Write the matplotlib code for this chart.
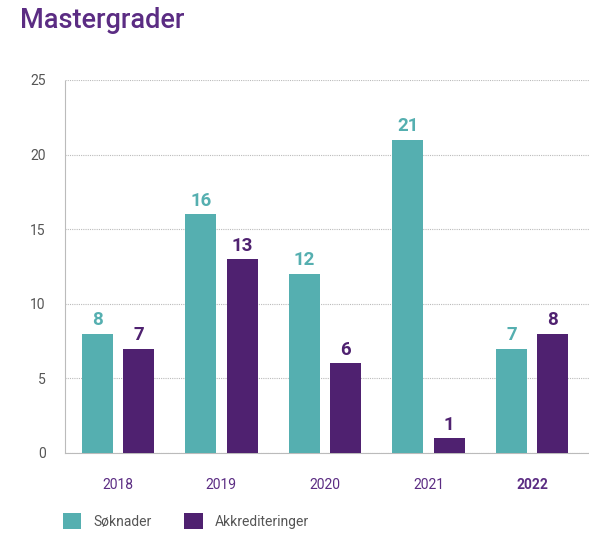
import matplotlib
matplotlib.use("Agg")
import matplotlib.pyplot as plt
import numpy as np

years = ["2018", "2019", "2020", "2021", "2022"]
soknader = [8, 16, 12, 21, 7]
akkrediteringer = [7, 13, 6, 1, 8]
yticks = [0, 5, 10, 15, 20, 25]

teal = "#55AFB0"
purple = "#4F2170"
title_purple = "#5B2C83"

plt.rcParams['font.family'] = ['Roboto', 'DejaVu Sans']

fig = plt.figure(figsize=(5.89, 5.34), dpi=100)
ax = fig.add_axes([65/589, 1-453/534, (589-65)/589, (453-80)/534])

x = np.arange(len(years))
w = 0.3
off = 0.2
b1 = ax.bar(x - off, soknader, w, color=teal, label="Søknader", zorder=3)
b2 = ax.bar(x + off, akkrediteringer, w, color=purple, label="Akkrediteringer", zorder=3)

for rect, v in zip(b1, soknader):
    ax.text(rect.get_x() + rect.get_width()/2, v + 0.3, str(v), ha='center', va='bottom',
            color=teal, fontsize=13.5, fontweight='bold', zorder=4)
for rect, v in zip(b2, akkrediteringer):
    ax.text(rect.get_x() + rect.get_width()/2, v + 0.3, str(v), ha='center', va='bottom',
            color=purple, fontsize=13.5, fontweight='bold', zorder=4)

ax.set_xlim(-0.51, 4.55)
ax.set_ylim(0, 25)
ax.set_yticks(yticks)
ax.set_yticklabels([str(t) for t in yticks], color="#555555", fontsize=10)
ax.set_xticks(x)
ax.set_xticklabels(years, fontsize=10, color=title_purple)
ax.get_xticklabels()[-1].set_fontweight('bold')
ax.tick_params(axis='both', length=0)
ax.tick_params(axis='x', pad=18)
ax.tick_params(axis='y', pad=14)

ax.grid(axis='y', color='#bbbbbb', linestyle=(0, (1, 1)), linewidth=0.8, zorder=0)
for s in ['top', 'right']:
    ax.spines[s].set_visible(False)
ax.spines['left'].set_color('#bbbbbb')
ax.spines['left'].set_linestyle((0, (1, 1)))
ax.spines['left'].set_linewidth(0.8)
ax.spines['bottom'].set_color('#bbbbbb')
ax.spines['bottom'].set_linestyle((0, (1, 1)))
ax.spines['bottom'].set_linewidth(0.8)

fig.text(20/589, 1-21/534, "Mastergrader", fontsize=19.5, color=title_purple,
         ha='left', va='center', fontweight=500)

leg = fig.legend(handles=[b1, b2], loc='center left', bbox_to_anchor=(50/589, 1-521/534),
                 ncol=2, frameon=False, fontsize=10, handlelength=1.35, handleheight=1.5,
                 columnspacing=2.3, handletextpad=0.9)
for t in leg.get_texts():
    t.set_color('#555555')

fig.savefig("out.png", dpi=100)
